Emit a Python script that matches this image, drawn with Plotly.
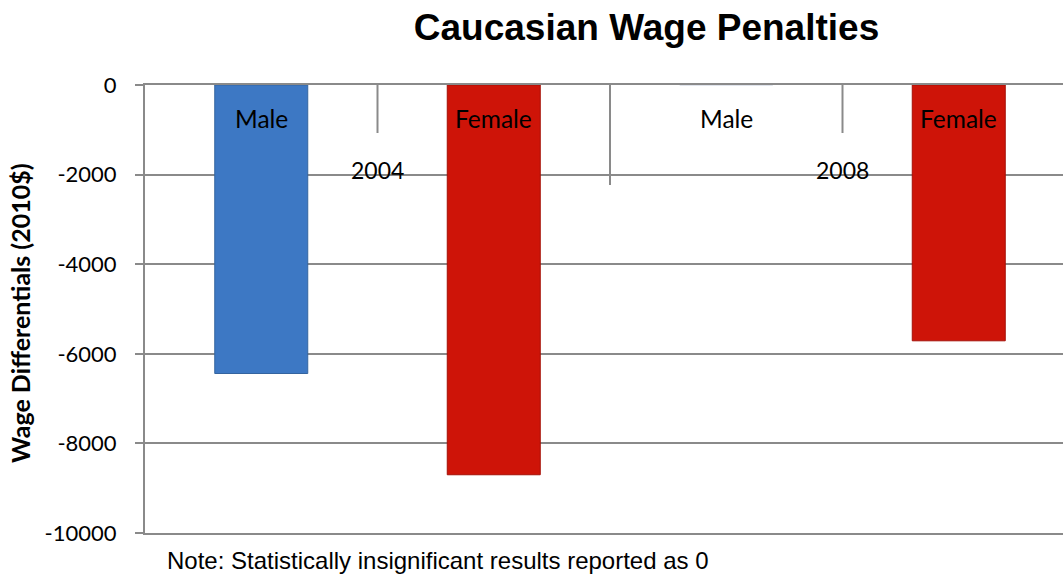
import plotly.graph_objects as go

# ---- data ----
categories = ["Male", "Female", "Male", "Female"]
years = ["2004", "2004", "2008", "2008"]
values = [-6440, -8700, 0, -5710]
year_labels = ["2004", "2008"]
y_ticks = [0, -2000, -4000, -6000, -8000, -10000]

title_text = "Caucasian Wage Penalties"
y_title = "Wage Differentials (2010$)"
note_text = "Note: Statistically insignificant results reported as 0"

color_map = {"Male": "#3D78C4", "Female": "#CE1408"}
line_map = {"Male": "#34649F", "Female": "#A50F06"}

W, H = 1063, 575
ml, mr, mt, mb = 145, 0, 85, 42
plot_w = W - ml - mr
plot_h = H - mt - mb
cat_px = 232.5  # pixel width of one category slot

xs = list(range(len(values)))

fig = go.Figure()
fig.add_trace(go.Bar(
    x=xs, y=values, width=0.4,
    marker=dict(color=[color_map[c] for c in categories],
                line=dict(color=[line_map[c] if v != 0 else "#D5DCE6"
                                 for c, v in zip(categories, values)], width=1)),
    hoverinfo="y", showlegend=False,
))

grid_col = "#8A8A8A"

# group divider ticks along the top axis (between categories)
for i in range(len(xs) - 1):
    boundary = (xs[i] + xs[i + 1]) / 2
    is_group = years[i] != years[i + 1]
    length = 100 if is_group else 48
    fig.add_shape(type="line", xref="x", yref="paper",
                  x0=boundary, x1=boundary, y0=1, y1=1 - length / plot_h,
                  line=dict(color=grid_col, width=2), layer="below")

# category labels
for x, c in zip(xs, categories):
    fig.add_annotation(x=x, y=1 - 33 / plot_h, xref="x", yref="paper",
                       text=c, showarrow=False, xanchor="center", yanchor="middle",
                       font=dict(family="Lato", size=24.5, color="black"))

# year labels centered on group
for yl in year_labels:
    idx = [x for x, y in zip(xs, years) if y == yl]
    fig.add_annotation(x=sum(idx) / len(idx), y=1 - 85 / plot_h, xref="x", yref="paper",
                       text=yl, showarrow=False, xanchor="center", yanchor="middle",
                       font=dict(family="Lato", size=23, color="black"))

# y axis title
fig.add_annotation(x=(20 - ml) / plot_w, y=1 - (313 - mt) / plot_h, xref="paper", yref="paper",
                   text="<b>" + y_title + "</b>", textangle=-90, showarrow=False,
                   xanchor="center", yanchor="middle",
                   font=dict(family="Lato", size=25, color="black"))

# note
fig.add_annotation(x=(165 - ml) / plot_w, y=-(560 - (H - mb)) / plot_h, xref="paper", yref="paper",
                   text=note_text, showarrow=False, xanchor="left", yanchor="middle",
                   font=dict(family="Liberation Sans", size=24, color="black"))

fig.update_layout(
    width=W, height=H,
    margin=dict(l=ml, r=mr, t=mt, b=mb),
    paper_bgcolor="white", plot_bgcolor="white",
    title=dict(text=title_text, x=646.5 / W, xref="container", xanchor="center",
               y=1 - 27 / H, yref="container", yanchor="middle",
               font=dict(family="Liberation Sans", size=37, color="black", weight="bold")),
    xaxis=dict(range=[-0.5, -0.5 + plot_w / cat_px], side="top", showline=True,
               linecolor=grid_col, linewidth=2, mirror=True, showgrid=False,
               zeroline=False, showticklabels=False, ticks="", fixedrange=True),
    yaxis=dict(range=[y_ticks[-1], y_ticks[0]], tickvals=y_ticks,
               ticktext=[str(v) for v in y_ticks], showgrid=True, gridcolor=grid_col,
               gridwidth=2, showline=True, linecolor=grid_col, linewidth=2,
               ticks="outside", ticklen=8, tickwidth=2, tickcolor=grid_col,
               ticklabelstandoff=14, zeroline=False,
               tickfont=dict(family="Lato", size=22, color="black")),
    bargap=0.6,
)

fig.write_html("out.html", config={"displayModeBar": False},
               post_script="document.body.style.margin='0';document.body.style.overflow='hidden';")
